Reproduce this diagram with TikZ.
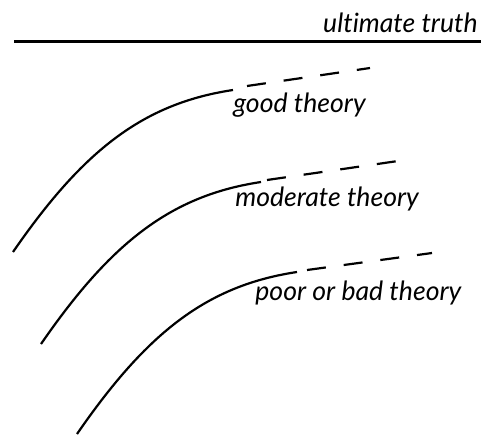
\documentclass[tikz,border=0pt]{standalone}
\usepackage{fontspec}
\setmainfont{Lato}[Ligatures=NoCommon]
\usetikzlibrary{positioning}

\begin{document}
\begin{tikzpicture}[x=0.5pt, y=-0.5pt,
    truthline/.style={line width=1.5pt},
    theory/.style={line width=1.1pt},
    extension/.style={line width=1.1pt, dash pattern=on 9.5pt off 9pt},
    label/.style={font=\fontsize{13.3}{16}\selectfont\itshape, inner sep=0pt}]

  \useasboundingbox (0,0) rectangle (481,434);

  % ultimate truth
  \coordinate (top-left) at (14,41.5);
  \coordinate (top-right) at (481,41.5);
  \draw[truthline] (top-left) -- (top-right);
  \node[label, anchor=base east] (truth) at (478,32) {ultimate truth};

  % good theory
  \coordinate (good-start) at (13,252);
  \coordinate (good-end) at (233,90);
  \coordinate (good-dash) at (247,86);
  \coordinate (good-tip) at (370,68);
  \draw[theory] (good-start) .. controls (83,150.5) and (143,103.5) .. (good-end);
  \draw[extension] (good-dash) -- (good-tip);
  \node[label, anchor=base west] (good) at (233,112) {good theory};

  % moderate theory
  \coordinate (mod-start) at (41,344);
  \coordinate (mod-end) at (261,182);
  \coordinate (mod-dash) at (267,180);
  \coordinate (mod-tip) at (398,161);
  \draw[theory] (mod-start) .. controls (111,242.5) and (171,195.5) .. (mod-end);
  \draw[extension] (mod-dash) -- (mod-tip);
  \node[label, anchor=base west] (moderate) at (235,206) {moderate theory};

  % poor or bad theory
  \coordinate (poor-start) at (77,434);
  \coordinate (poor-end) at (297,272);
  \coordinate (poor-dash) at (307,270);
  \coordinate (poor-tip) at (432,253);
  \draw[theory] (poor-start) .. controls (147,332.5) and (207,285.5) .. (poor-end);
  \draw[extension] (poor-dash) -- (poor-tip);
  \node[label, anchor=base west] (poor) at (255,300) {poor or bad theory};
\end{tikzpicture}
\end{document}
